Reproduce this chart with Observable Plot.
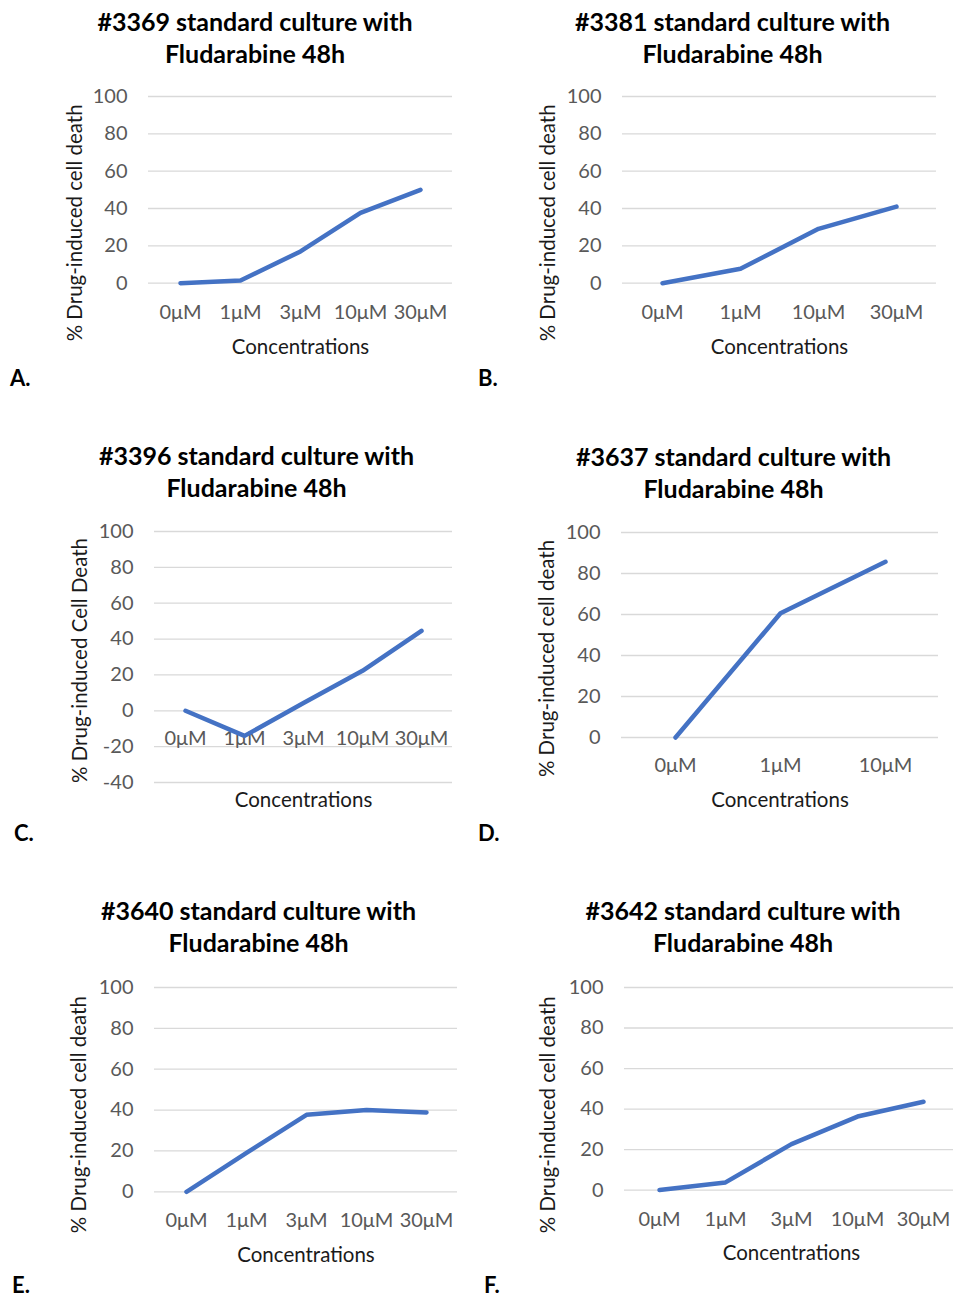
<!DOCTYPE html>
<html><head><meta charset="utf-8">
<script src="https://cdn.jsdelivr.net/npm/d3@7"></script>
<script src="https://cdn.jsdelivr.net/npm/@observablehq/plot@0.6"></script>
<style>
body{margin:0;background:#fff;overflow:hidden}
#root{position:relative;width:953px;height:1299px;overflow:hidden;background:#fff}
.title{position:absolute;width:440px;font-family:Lato,sans-serif;font-weight:bold;font-size:25px;line-height:32px;text-align:center;color:#000;white-space:nowrap}
.letter{position:absolute;font-family:Lato,sans-serif;font-weight:bold;font-size:22px;line-height:18px;color:#000}
svg{position:absolute}
</style></head>
<body><div id="root"></div>
<script>
// ---- data ----
const concentrations5 = ["0μM", "1μM", "3μM", "10μM", "30μM"];
const concentrations4 = ["0μM", "1μM", "10μM", "30μM"];
const concentrations3 = ["0μM", "1μM", "10μM"];

const deathA = [0, 1.4, 17, 37.7, 50];      // #3369
const deathB = [0, 7.7, 29.1, 41];          // #3381
const deathC = [0, -14, 4.3, 22.3, 44.6];   // #3396
const deathD = [0, 60.6, 85.7];             // #3637
const deathE = [0, 19, 37.7, 40, 38.8];     // #3640
const deathF = [0, 3.8, 22.7, 36.3, 43.6];  // #3642

const ticks0to100 = [0, 20, 40, 60, 80, 100];
const ticksNeg40to100 = [-40, -20, 0, 20, 40, 60, 80, 100];

const titleLine2 = "Fludarabine 48h";
const xLabel = "Concentrations";
const yLabelLower = "% Drug-induced cell death";
const yLabelUpper = "% Drug-induced Cell Death";

// ---- layout ----
const panels = [
  {letter: "A.", sample: "#3369", cats: concentrations5, values: deathA, yTicks: ticks0to100, yLabel: yLabelLower,
   col: 0, frame: [148, 452, 96, 282.7], xTickDy: 29, xLabelDy: 64, yLabelDx: 73, yLabelDy: 33, title: [255, 21], letterPos: [10, 378]},
  {letter: "B.", sample: "#3381", cats: concentrations4, values: deathB, yTicks: ticks0to100, yLabel: yLabelLower,
   col: 476, frame: [622, 936, 96, 282.7], xTickDy: 29, xLabelDy: 64, yLabelDx: 74, yLabelDy: 33, title: [732.5, 21], letterPos: [478, 378]},
  {letter: "C.", sample: "#3396", cats: concentrations5, values: deathC, yTicks: ticksNeg40to100, yLabel: yLabelUpper,
   col: 0, frame: [154, 452, 530.7, 781.7], xTickDy: 28.3, xLabelDy: 18.3, yLabelDx: 74, yLabelDy: 3.5, title: [256.5, 455], letterPos: [14, 833]},
  {letter: "D.", sample: "#3637", cats: concentrations3, values: deathD, yTicks: ticks0to100, yLabel: yLabelLower,
   col: 476, frame: [621, 938, 531.7, 736.7], xTickDy: 28.3, xLabelDy: 63.3, yLabelDx: 74, yLabelDy: 23.5, title: [733.5, 456], letterPos: [478, 833]},
  {letter: "E.", sample: "#3640", cats: concentrations5, values: deathE, yTicks: ticks0to100, yLabel: yLabelLower,
   col: 0, frame: [154, 457, 986.7, 1191], xTickDy: 29, xLabelDy: 64, yLabelDx: 75, yLabelDy: 25, title: [258.5, 910], letterPos: [12, 1285]},
  {letter: "F.", sample: "#3642", cats: concentrations5, values: deathF, yTicks: ticks0to100, yLabel: yLabelLower,
   col: 476, frame: [624, 958, 986.7, 1189.3], xTickDy: 29, xLabelDy: 63.4, yLabelDx: 76, yLabelDy: 26, title: [743, 910], letterPos: [484, 1285]}
];

const root = document.getElementById("root");

for (const p of panels) {
  const [x0, x1, y0, y1] = p.frame;
  const left = p.col;
  const top = y0 - 20;
  const width = x1 + 12 - left;
  const height = y1 + 92 - top;
  const rows = p.cats.map((c, i) => ({conc: c, value: p.values[i]}));

  const chart = Plot.plot({
    width, height,
    marginLeft: x0 - left,
    marginRight: width - (x1 - left),
    marginTop: y0 - top,
    marginBottom: height - (y1 - top),
    style: {fontFamily: "Lato, sans-serif", fontSize: "20px", color: "#595959", background: "transparent", overflow: "visible"},
    x: {type: "point", domain: p.cats, padding: 0.5, axis: null},
    y: {domain: [p.yTicks[0], p.yTicks[p.yTicks.length - 1]], ticks: p.yTicks, tickSize: 0, tickPadding: 21, label: null, tickFormat: d => String(d)},
    marks: [
      Plot.ruleY(p.yTicks, {stroke: "#d9d9d9", strokeWidth: 1.3}),
      Plot.text(p.cats, {x: d => d, y: () => 0, dy: p.xTickDy, fill: "#595959", fontSize: 20, lineAnchor: "middle"}),
      Plot.line(rows, {x: "conc", y: "value", stroke: "#4472c4", strokeWidth: 4.5, strokeLinecap: "round", strokeLinejoin: "round"}),
      Plot.text([xLabel], {frameAnchor: "bottom", dy: p.xLabelDy, fill: "#1a1a1a", fontSize: 20.5, lineAnchor: "middle", textAnchor: "middle"}),
      Plot.text([p.yLabel], {frameAnchor: "left", rotate: -90, dx: -p.yLabelDx, dy: p.yLabelDy, fill: "#1a1a1a", fontSize: 20.5, textAnchor: "middle", lineAnchor: "middle"})
    ]
  });
  chart.style.left = left + "px";
  chart.style.top = top + "px";
  root.appendChild(chart);

  const t = document.createElement("div");
  t.className = "title";
  t.style.left = (p.title[0] - 220) + "px";
  t.style.top = (p.title[1] - 16) + "px";
  t.innerHTML = `${p.sample} standard culture with<br>${titleLine2}`;
  root.appendChild(t);

  const l = document.createElement("div");
  l.className = "letter";
  l.style.left = p.letterPos[0] + "px";
  l.style.top = (p.letterPos[1] - 9) + "px";
  l.textContent = p.letter;
  root.appendChild(l);
}
</script>
</body></html>
